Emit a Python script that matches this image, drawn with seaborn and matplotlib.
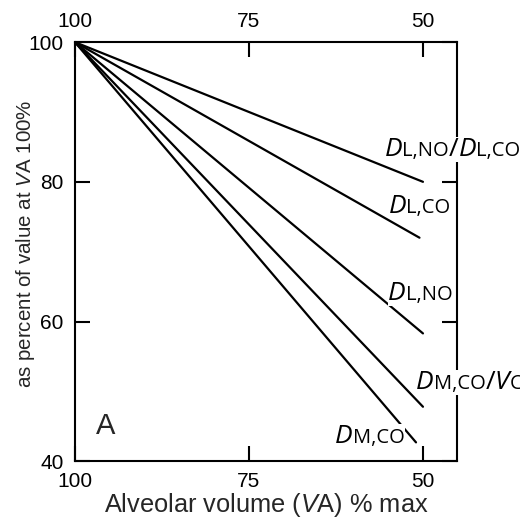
import pandas as pd
import matplotlib
matplotlib.use("Agg")
import matplotlib.pyplot as plt
import seaborn as sns
from matplotlib.offsetbox import TextArea, HPacker, AnnotationBbox

# data: every line starts at (100, 100)
series = ["DL,NO/DL,CO", "DL,CO", "DL,NO", "DM,CO/VC", "DM,CO"]
x_start = [100, 100, 100, 100, 100]
y_start = [100, 100, 100, 100, 100]
x_end = [50, 50.5, 50, 50, 51]
y_end = [80, 72, 58.3, 47.8, 42.7]

# label pieces: (text, big?, italic?)
label_parts = [
    [("D", 1, 1), ("L,NO", 0, 0), ("/", 1, 0), ("D", 1, 1), ("L,CO", 0, 0)],
    [("D", 1, 1), ("L,CO", 0, 0)],
    [("D", 1, 1), ("L,NO", 0, 0)],
    [("D", 1, 1), ("M,CO", 0, 0), ("/", 1, 0), ("V", 1, 1), ("C", 0, 0)],
    [("D", 1, 1), ("M,CO", 0, 0)],
]
label_x = [55.5, 54.9, 55.0, 51.0, 62.6]
label_y = [84.6, 76.5, 64.0, 51.3, 43.6]

xticks = [100, 75, 50]
yticks = [40, 60, 80, 100]

rows = []
for i in range(len(series)):
    rows.append({"series": series[i], "x": x_start[i], "y": y_start[i]})
    rows.append({"series": series[i], "x": x_end[i], "y": y_end[i]})
df = pd.DataFrame(rows)

sns.set_style("ticks")
plt.rcParams["font.family"] = ["Liberation Sans", "DejaVu Sans"]
plt.rcParams["mathtext.fontset"] = "custom"
plt.rcParams["mathtext.rm"] = "Liberation Sans"
plt.rcParams["mathtext.it"] = "Liberation Sans:italic"

fig = plt.figure(figsize=(5.2, 5.2), dpi=100)
ax = fig.add_axes([0.144, 0.113, 0.735, 0.806])

sns.lineplot(data=df, x="x", y="y", units="series", estimator=None,
             color="black", linewidth=1.6, ax=ax, legend=False)

ax.set_xlim(100, 45.1)
ax.set_ylim(40, 100)
ax.set_xticks(xticks)
ax.set_yticks(yticks)
ax.tick_params(direction="in", length=11, width=1.5, top=True, right=True,
               labeltop=True, labelbottom=True, labelsize=15, pad=8,
               colors="black")
for s in ax.spines.values():
    s.set_visible(True)
    s.set_linewidth(1.5)
    s.set_color("black")

ax.set_xlabel(r"Alveolar volume ($\mathit{V}$A) % max", fontsize=18.3, labelpad=0)
ax.set_ylabel(r"as percent of value at $\mathit{V}$A 100%", fontsize=14.8)
ax.yaxis.set_label_coords(-0.1, 0.52)

ax.text(0.055, 0.065, "A", transform=ax.transAxes, fontsize=21)

for i, parts in enumerate(label_parts):
    areas = []
    for txt, big, it in parts:
        areas.append(TextArea(txt, textprops=dict(
            fontsize=19 if big else 14.5, family="Open Sans",
            style="italic" if it else "normal", color="black")))
    pack = HPacker(children=areas, align="baseline", pad=0, sep=0)
    ab = AnnotationBbox(pack, (label_x[i], label_y[i]), xycoords="data",
                        box_alignment=(0, 0.5), frameon=True, pad=0.0,
                        bboxprops=dict(facecolor="white", edgecolor="none"),
                        annotation_clip=False)
    ab.set_zorder(5)
    ax.add_artist(ab)

fig.savefig("out.png", dpi=100)
